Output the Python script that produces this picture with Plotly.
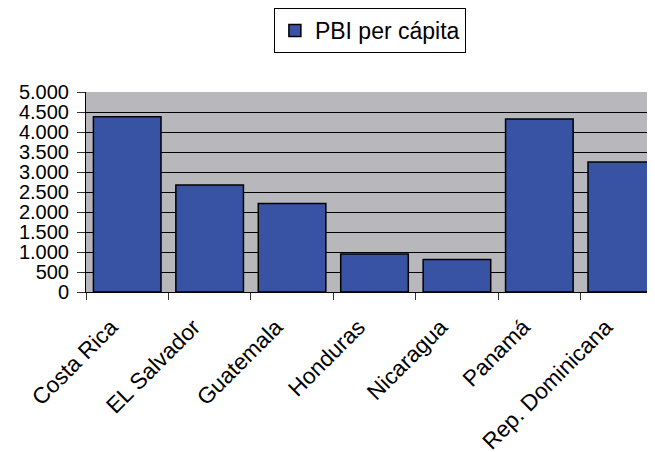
import plotly.graph_objects as go

categories = ["Costa Rica", "EL Salvador", "Guatemala", "Honduras", "Nicaragua", "Panamá", "Rep. Dominicana"]
pbi_per_capita = [4380, 2675, 2215, 950, 815, 4325, 3250]
series_name = "PBI per cápita"
y_ticks = [0, 500, 1000, 1500, 2000, 2500, 3000, 3500, 4000, 4500, 5000]

FONT = "Arial, Liberation Sans, sans-serif"

fig = go.Figure()
fig.add_trace(go.Bar(
    x=categories,
    y=pbi_per_capita,
    name=series_name,
    marker=dict(color="#3953A4", line=dict(color="#000000", width=1.5)),
    showlegend=True,
))

fig.update_layout(
    width=655,
    height=452,
    margin=dict(l=78, r=0, t=84, b=168, autoexpand=False),
    paper_bgcolor="white",
    plot_bgcolor="#B8B8BC",
    separators=",.",
    bargap=0.18,
    font=dict(family=FONT, color="black"),
    showlegend=True,
    legend=dict(
        x=0.492, xanchor="center",
        y=1.42, yanchor="top",
        orientation="h",
        bgcolor="white",
        bordercolor="black",
        borderwidth=1,
        font=dict(size=23, family=FONT, color="black"),
    ),
    xaxis=dict(
        type="category",
        range=[-0.5, 6.5],
        tickson="boundaries",
        ticks="outside",
        ticklen=7,
        tickcolor="#333333",
        tickangle=-45,
        tickfont=dict(size=22.5, family=FONT, color="black"),
        showline=True,
        linecolor="black",
        linewidth=1,
        showgrid=False,
        automargin=False,
        ticklabelstandoff=12,
        ticklabelshift=-16,
    ),
    yaxis=dict(
        range=[0, 5000],
        tickvals=y_ticks,
        tickformat=",d",
        ticks="outside",
        ticklen=8,
        tickcolor="#333333",
        tickfont=dict(size=20, family=FONT, color="black"),
        showline=True,
        linecolor="black",
        linewidth=1,
        showgrid=True,
        gridcolor="#000000",
        gridwidth=1,
        zeroline=False,
        automargin=False,
        ticklabelstandoff=4,
    ),
)

fig.write_html("out.html")
